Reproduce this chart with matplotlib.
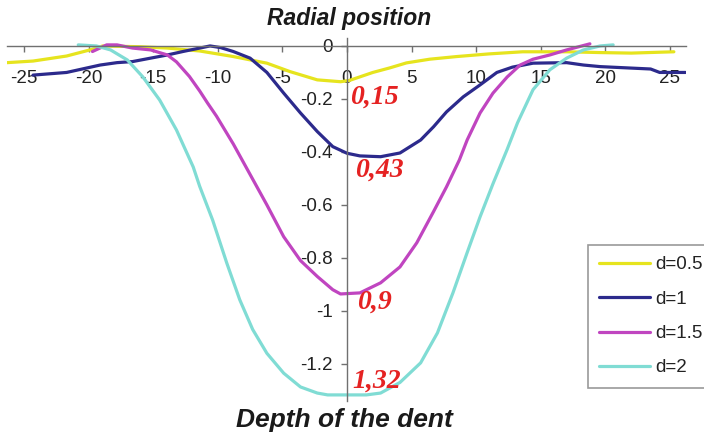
import matplotlib
matplotlib.use("Agg")
import matplotlib.pyplot as plt

# ---- data ----
x_d05 = [-26.3, -24.3, -21.7, -19.9, -18.9, -16, -13.9, -11.4, -8.8, -6.2, -4.4, -2.3, -0.5,
         0.2, 2, 3.3, 4.6, 6.4, 8.5, 11, 13.6, 17, 19.6, 22, 25.3]
y_d05 = [-0.063, -0.057, -0.038, -0.015, 0.0, -0.003, -0.008, -0.019, -0.04, -0.065, -0.097,
         -0.128, -0.135, -0.13, -0.10, -0.083, -0.064, -0.05, -0.04, -0.03, -0.022, -0.022,
         -0.025, -0.027, -0.022]

x_d1 = [-24.3, -21.7, -19.1, -17.8, -16.6, -15.2, -13.9, -12.7, -11.4, -10.6, -9.8, -8.8, -7.5,
        -6.2, -4.9, -3.6, -2.3, -1.1, 0, 1, 2.6, 4.1, 5.7, 6.7, 7.7, 9, 10.3, 11.6, 12.8, 14.4,
        17, 18.3, 19.6, 23.5, 24.2, 26.2]
y_d1 = [-0.11, -0.10, -0.072, -0.063, -0.059, -0.046, -0.034, -0.021, -0.008, 0.0, -0.006,
        -0.021, -0.046, -0.10, -0.178, -0.253, -0.323, -0.38, -0.405, -0.415, -0.418, -0.404,
        -0.355, -0.305, -0.249, -0.192, -0.147, -0.10, -0.08, -0.065, -0.063, -0.072, -0.078,
        -0.087, -0.10, -0.10]

x_d15 = [-19.7, -18.6, -17.8, -16.6, -15.2, -13.9, -13.2, -12.2, -11.4, -10.8, -10.1, -8.8,
         -7.5, -6.2, -4.9, -3.6, -2.3, -1.1, -0.5, 1, 2.6, 4.1, 5.4, 6.7, 7.7, 8.7, 9.3, 10.3,
         11.3, 12.4, 13.4, 14.4, 15.7, 17, 18.8]
y_d15 = [-0.021, 0.004, 0.004, -0.008, -0.015, -0.034, -0.06, -0.115, -0.17, -0.215, -0.265,
         -0.37, -0.485, -0.60, -0.72, -0.81, -0.87, -0.92, -0.936, -0.932, -0.894, -0.834,
         -0.743, -0.625, -0.532, -0.43, -0.355, -0.253, -0.178, -0.117, -0.072, -0.05, -0.034,
         -0.015, 0.008]

x_d2 = [-20.8, -19.4, -18.3, -17, -15.8, -14.5, -13.2, -11.9, -11.4, -10.4, -9.3, -8.3, -7.3,
        -6.2, -4.9, -3.6, -2.3, -1.5, 0, 1.5, 2.6, 4.1, 5.7, 7, 8.2, 9.3, 10.3, 11.3, 12.4,
        13.2, 14.4, 15.7, 17, 18.3, 19.6, 20.6]
y_d2 = [0.004, 0.0, -0.015, -0.053, -0.117, -0.204, -0.317, -0.457, -0.53, -0.657, -0.82,
        -0.958, -1.07, -1.16, -1.235, -1.287, -1.31, -1.317, -1.317, -1.317, -1.31, -1.27,
        -1.196, -1.083, -0.932, -0.78, -0.645, -0.52, -0.39, -0.29, -0.165, -0.09, -0.046,
        -0.015, 0.0, 0.004]

series_labels = ["d=0.5", "d=1", "d=1.5", "d=2"]
depth_labels = ["0,15", "0,43", "0,9", "1,32"]
depth_label_x = [0.23, 0.6, 0.77, 0.4]
depth_label_y = [-0.192, -0.468, -0.966, -1.264]
x_ticks = [-25, -20, -15, -10, -5, 0, 5, 10, 15, 20, 25]
y_ticks = [0, -0.2, -0.4, -0.6, -0.8, -1, -1.2]
y_tick_labels = ["0", "-0.2", "-0.4", "-0.6", "-0.8", "-1", "-1.2"]

plt.rcParams['font.family'] = ['Liberation Sans', 'DejaVu Sans']

W, H = 704, 436
fig = plt.figure(figsize=(W / 100, H / 100), dpi=100)
xlim = (-26.3, 26.2)
ylim = (-1.34, 0.03)
left_px, right_px = 7.2, 685.5
top_px, bot_px = 38.0, 401.0
ax = fig.add_axes([left_px / W, 1 - bot_px / H, (right_px - left_px) / W, (bot_px - top_px) / H])
ax.set_xlim(*xlim)
ax.set_ylim(*ylim)
ax.patch.set_alpha(0)

colors = ["#e6e41e", "#2c2a8c", "#c045c0", "#80dcd4"]
for xs, ys, c, lab in zip([x_d05, x_d1, x_d15, x_d2], [y_d05, y_d1, y_d15, y_d2], colors, series_labels):
    ax.plot(xs, ys, color=c, lw=2.3, label=lab, solid_joinstyle='round', solid_capstyle='round')

for sp in ['top', 'right']:
    ax.spines[sp].set_visible(False)
ax.spines['left'].set_position(('data', 0))
ax.spines['bottom'].set_position(('data', 0))
for sp in ['left', 'bottom']:
    ax.spines[sp].set_color('#707070')
    ax.spines[sp].set_linewidth(1.0)

ax.set_xticks(x_ticks)
ax.set_xticklabels([str(t) for t in x_ticks])
ax.set_yticks(y_ticks)
ax.set_yticklabels(y_tick_labels)
ax.tick_params(axis='x', direction='out', length=4, width=1, color='#707070', pad=13,
               labelsize=13.5, labelcolor='#222222')
ax.tick_params(axis='y', direction='out', length=4, width=1, color='#707070', pad=6,
               labelsize=13.5, labelcolor='#222222')

for t, xx, yy in zip(depth_labels, depth_label_x, depth_label_y):
    ax.text(xx, yy, t, color='#e52222', fontsize=20, fontweight='bold', fontstyle='italic',
            family='Liberation Serif', ha='left', va='center')

fig.text(349 / W, 1 - 18 / H, "Radial position", ha='center', va='center', fontsize=16.5,
         fontweight='bold', fontstyle='italic', color='#1a1a1a')
fig.text(344 / W, 1 - 420 / H, "Depth of the dent", ha='center', va='center', fontsize=19,
         fontweight='bold', fontstyle='italic', color='#1a1a1a')

leg = fig.legend(loc='upper left', bbox_to_anchor=(588 / W, 1 - 245 / H), frameon=True,
                 fancybox=False, fontsize=13.5, handlelength=2.7, handletextpad=0.3,
                 labelspacing=0.92, borderpad=0.6, borderaxespad=0)
leg.get_frame().set_edgecolor('#808080')
leg.get_frame().set_linewidth(1.2)
for t in leg.get_texts():
    t.set_color('#222222')

fig.savefig("out.png", dpi=100)
